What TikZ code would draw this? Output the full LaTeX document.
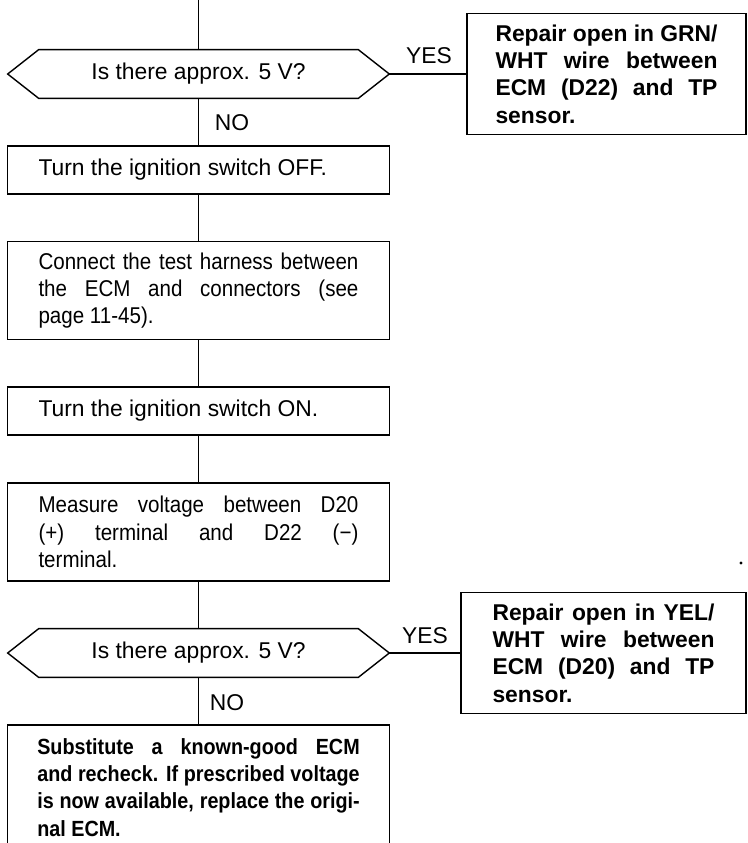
\documentclass[tikz,border=0pt]{standalone}
\usepackage{fontspec}
\setmainfont{Liberation Sans}
\newfontfamily\narrowsans[FakeStretch=0.9]{Liberation Sans}
\usetikzlibrary{positioning}

\begin{document}
\begin{tikzpicture}[
  x=0.02cm, y=-0.02cm,
  every node/.style={font=\fontsize{13}{15.5}\selectfont},
  stepbox/.style={draw, line width=0.8pt, text width=6.4cm, inner xsep=0.62cm, align=justify, minimum height=0.96cm},
  query/.style={inner sep=0pt, minimum width=6.38cm, minimum height=0.96cm},
  fixbox/.style={draw, line width=0.8pt, text width=4.44cm, inner xsep=0.6cm, align=justify, minimum height=2.42cm, font=\fontsize{13}{15.5}\selectfont\bfseries},
  link/.style={line width=0.8pt},
  tag/.style={inner sep=0pt}
]
  \useasboundingbox (0,0) rectangle (748,843);

  \coordinate (top) at (198.5,0);
  \node[query] (q1) at (198.5,74) {Is there approx. 5 V?};
  \node[fixbox, inner xsep=0.57cm] (rep1) at (606.5,74) {Repair open in GRN/\linebreak WHT wire between\linebreak ECM (D22) and TP\linebreak sensor.};
  \node[stepbox] (off) at (198.5,170) {Turn the ignition switch OFF.};
  \node[stepbox, minimum height=1.95cm, font=\fontsize{13}{15.5}\narrowsans] (conn) at (198.5,290.5) {Connect the test harness between\linebreak the ECM and connectors (see\linebreak page 11-45).};
  \node[stepbox] (on) at (198.5,411) {Turn the ignition switch ON.};
  \node[stepbox, minimum height=1.96cm, font=\fontsize{13}{15.5}\narrowsans] (meas) at (198.5,532) {Measure voltage between D20\linebreak (+) terminal and D22 (−)\linebreak terminal.};
  \node[query] (q2) at (198.5,653) {Is there approx. 5 V?};
  \node[fixbox, inner xsep=0.63cm] (rep2) at (603.5,653) {Repair open in YEL/\linebreak WHT wire between\linebreak ECM (D20) and TP\linebreak sensor.};
  \node[stepbox, text width=6.45cm, inner xsep=0.6cm, minimum height=2.5cm, font=\fontsize{12.5}{15.5}\narrowsans\bfseries] (subst) at (198.5,787.5) {Substitute a known-good ECM\linebreak and recheck. If prescribed voltage\linebreak is now available, replace the origi-\linebreak nal ECM.};

  \node[tag] (yes1) at (429,56) {YES};
  \node[tag] (no1) at (232,123) {NO};
  \node[tag] (yes2) at (425,636) {YES};
  \node[tag] (no2) at (227,703) {NO};

  % hexagon outlines round the two questions
  \foreach \q in {q1, q2} {
    \coordinate (\q-w) at ([xshift=-0.62cm]\q.west);
    \coordinate (\q-e) at ([xshift=0.62cm]\q.east);
    \draw[link] (\q-w) -- (\q.north west) -- (\q.north east) -- (\q-e)
      -- (\q.south east) -- (\q.south west) -- cycle;
  }

  \draw[link] (top) -- (q1.north);
  \draw[link] (q1-e) -- (rep1.west);
  \draw[link] (q1.south) -- (off.north);
  \draw[link] (off) -- (conn);
  \draw[link] (conn) -- (on);
  \draw[link] (on) -- (meas);
  \draw[link] (meas) -- (q2.north);
  \draw[link] (q2-e) -- (rep2.west);
  \draw[link] (q2.south) -- (subst.north);

  \fill (741,563) circle (0.9pt);
\end{tikzpicture}
\end{document}
